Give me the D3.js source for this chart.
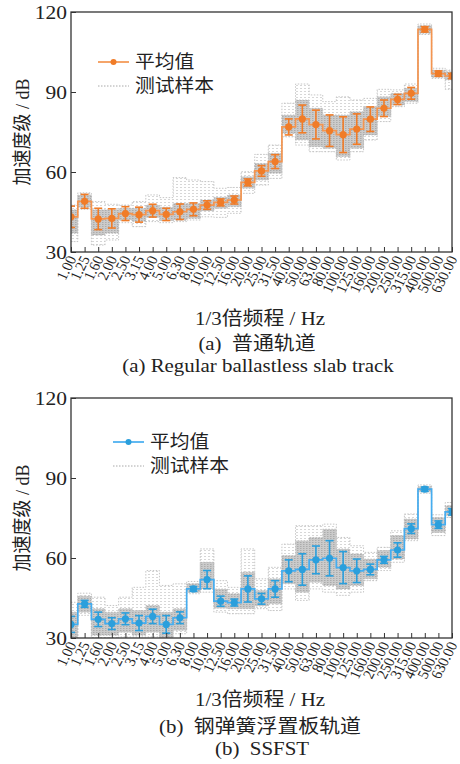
<!DOCTYPE html>
<html>
<head>
<meta charset="utf-8">
<script src="https://cdn.jsdelivr.net/npm/d3@7"></script>
<style>
  body { margin: 0; background: #fff; }
</style>
</head>
<body>
<div id="chart"></div>
<script>
const freqLabels = ["1.00", "1.25", "1.60", "2.00", "2.50", "3.15", "4.00", "5.00", "6.30", "8.00",
  "10.00", "12.50", "16.00", "20.00", "25.00", "31.50", "40.00", "50.00", "63.00", "80.00",
  "100.00", "125.00", "160.00", "200.00", "250.00", "315.00", "400.00", "500.00", "630.00"];
const yTicks = [30, 60, 90, 120];

// (a) regular slab track
const meanA = [43.2, 49.0, 42.4, 42.6, 44.4, 44.0, 45.5, 44.1, 45.1, 46.0, 47.6, 48.6, 49.5, 56.1, 60.4,
  63.9, 76.9, 79.9, 77.8, 75.5, 74.0, 76.1, 79.8, 83.9, 87.2, 89.5, 113.5, 96.9, 96.0];
const errA = [4.0, 2.6, 4.0, 3.6, 2.6, 2.8, 2.4, 2.3, 2.9, 2.4, 1.6, 1.3, 1.5, 1.3, 2.0,
  2.6, 3.0, 5.2, 5.4, 5.9, 6.7, 5.7, 4.6, 3.1, 1.9, 2.2, 1.0, 1.0, 1.0];
const outerHiA = [47.6, 52.2, 48.9, 47.9, 47.6, 48.9, 51.4, 50.4, 57.9, 57.0, 56.4, 53.9, 54.2, 60.1, 66.6,
  70.1, 85.8, 93.0, 88.9, 86.4, 88.2, 87.0, 87.6, 91.0, 90.8, 93.0, 115.5, 98.9, 98.2];
const outerLoA = [33.9, 46.0, 32.6, 34.5, 41.0, 39.5, 41.4, 41.0, 41.4, 42.0, 43.2, 43.0, 44.5, 52.0, 55.1,
  57.6, 73.2, 70.1, 67.6, 67.6, 64.5, 67.6, 72.0, 78.9, 84.5, 85.8, 111.6, 95.1, 91.0];
const denseHiA = [45.8, 51.4, 45.8, 45.8, 46.4, 46.4, 47.6, 46.8, 48.2, 48.2, 49.5, 50.5, 51.4, 58.2, 63.2,
  67.0, 81.4, 87.0, 83.9, 81.4, 81.4, 82.6, 84.5, 88.2, 89.5, 91.4, 114.8, 98.2, 97.6];
const denseLoA = [37.0, 46.8, 36.4, 37.0, 42.0, 41.4, 43.0, 41.8, 42.0, 42.6, 45.5, 46.4, 47.0, 53.9, 57.0,
  59.5, 74.5, 72.0, 69.5, 68.9, 65.8, 68.9, 73.9, 80.8, 85.1, 86.4, 112.0, 95.5, 94.5];

// (b) SSFST
const meanB = [35.1, 42.8, 37.0, 35.4, 37.2, 35.6, 38.1, 35.1, 37.6, 48.4, 51.9, 43.8, 43.3, 48.4, 44.7,
  48.4, 55.2, 55.7, 59.3, 59.9, 56.4, 55.2, 55.7, 59.3, 63.0, 71.0, 85.8, 72.5, 77.3];
const errB = [3.0, 1.3, 2.7, 2.2, 2.2, 2.8, 2.7, 3.3, 2.2, 0.9, 3.4, 1.9, 1.3, 4.9, 2.0,
  3.1, 4.1, 5.9, 5.2, 6.6, 6.0, 4.4, 2.0, 1.3, 2.7, 1.8, 0.8, 1.4, 1.2];
const outerHiB = [43.4, 46.8, 45.3, 42.2, 45.3, 49.0, 55.3, 49.7, 50.3, 51.2, 63.4, 51.5, 49.0, 63.4, 52.2,
  56.5, 65.2, 72.1, 72.1, 72.7, 67.7, 64.6, 62.1, 64.0, 70.2, 76.5, 87.4, 76.2, 80.8];
const outerLoB = [30.0, 38.5, 30.0, 30.0, 30.4, 30.4, 30.4, 30.0, 31.6, 46.6, 47.2, 39.7, 39.1, 39.1, 41.0,
  40.3, 48.4, 44.1, 48.4, 47.2, 46.0, 47.2, 51.5, 55.3, 58.4, 66.5, 84.3, 68.4, 75.2];
const denseHiB = [39.7, 45.7, 41.0, 39.7, 41.0, 40.3, 42.2, 39.7, 41.0, 50.3, 58.4, 48.4, 46.6, 54.7, 47.8,
  52.2, 60.9, 66.5, 67.7, 70.8, 63.4, 61.5, 59.6, 62.8, 68.4, 74.6, 86.8, 75.2, 79.6];
const denseLoB = [30.0, 39.7, 31.0, 31.0, 32.2, 31.0, 32.2, 30.0, 32.9, 47.2, 48.4, 41.2, 41.0, 41.0, 42.0,
  42.8, 50.3, 47.2, 50.9, 49.7, 48.4, 49.7, 52.2, 56.5, 59.6, 67.1, 84.8, 69.6, 75.8];

const WIDTH = 460, HEIGHT = 764;
const LEFT = 71, RIGHT = 452;
const LATIN = '"Liberation Serif", "Times New Roman", serif';
const CJK = '"Noto Sans CJK SC", sans-serif';
const SX = 1.1; // the source figure is slightly stretched sideways

const svg = d3.select('#chart')
  .append('svg')
  .attr('width', WIDTH)
  .attr('height', HEIGHT);

// writes mixed latin / chinese text, each run in its own font
function richText(sel, str) {
  const runs = str.match(/[\u3000-\u9fff]+|[^\u3000-\u9fff]+/g);
  runs.forEach(r => {
    sel.append('tspan')
      .style('font-family', /[\u3000-\u9fff]/.test(r) ? CJK : LATIN)
      .text(r);
  });
  return sel;
}

// textures for the sample bands
const defs = svg.append('defs');
const outerPat = defs.append('pattern')
  .attr('id', 'outerPat')
  .attr('patternUnits', 'userSpaceOnUse')
  .attr('width', 4).attr('height', 3);
outerPat.append('line')
  .attr('x1', 0).attr('y1', 1.5).attr('x2', 2).attr('y2', 1.5)
  .style('stroke', '#d2d2d2').style('stroke-width', 0.9);
const densePat = defs.append('pattern')
  .attr('id', 'densePat')
  .attr('patternUnits', 'userSpaceOnUse')
  .attr('width', 3).attr('height', 2);
densePat.append('rect').attr('width', 3).attr('height', 2).style('fill', '#cbcbcb');
densePat.append('rect').attr('width', 1.5).attr('height', 1).style('fill', '#acacac');

function drawPanel(p) {
  const g = svg.append('g');
  const x = d3.scalePoint().domain(freqLabels).range([LEFT, RIGHT]);
  const y = d3.scaleLinear().domain([30, 120]).range([p.bottom, p.top]);

  defs.append('clipPath').attr('id', p.id + 'clip')
    .append('rect')
    .attr('x', LEFT).attr('y', p.top)
    .attr('width', RIGHT - LEFT).attr('height', p.bottom - p.top);

  const plot = g.append('g').attr('clip-path', `url(#${p.id}clip)`);

  const band = (lo, hi) => d3.area()
    .x((d, i) => x(freqLabels[i]))
    .y0((d, i) => y(lo[i]))
    .y1((d, i) => y(hi[i]))
    .curve(d3.curveStep)(lo);
  const step = arr => d3.line()
    .x((d, i) => x(freqLabels[i]))
    .y(d => y(d))
    .curve(d3.curveStep)(arr);

  // test samples
  plot.append('path').attr('d', band(p.outerLo, p.outerHi)).style('fill', 'url(#outerPat)');
  plot.append('path').attr('d', band(p.denseLo, p.denseHi)).style('fill', 'url(#densePat)');
  [p.outerHi, p.outerLo, p.denseHi, p.denseLo].forEach(arr => {
    plot.append('path')
      .attr('d', step(arr))
      .style('fill', 'none')
      .style('stroke', '#b8b8b8')
      .style('stroke-width', 0.8)
      .style('stroke-dasharray', '1.5,1.5');
  });

  // mean
  plot.append('path')
    .attr('d', step(p.mean))
    .style('fill', 'none')
    .style('stroke', p.lineColor)
    .style('stroke-width', 1.7);

  p.mean.forEach((m, i) => {
    const cx = x(freqLabels[i]);
    const y0 = y(m - p.err[i]);
    const y1 = y(m + p.err[i]);
    plot.append('line')
      .attr('x1', cx).attr('x2', cx).attr('y1', y0).attr('y2', y1)
      .style('stroke', p.color).style('stroke-width', 1.6);
    [y0, y1].forEach(yy => {
      plot.append('line')
        .attr('x1', cx - 4).attr('x2', cx + 4).attr('y1', yy).attr('y2', yy)
        .style('stroke', p.color).style('stroke-width', 1.6);
    });
    plot.append('circle')
      .attr('cx', cx).attr('cy', y(m)).attr('r', 3.6)
      .style('fill', p.color);
  });

  // axes
  const yAxis = g.append('g')
    .attr('transform', `translate(${LEFT},0)`)
    .call(d3.axisLeft(y).tickValues(yTicks).tickSize(-5));
  yAxis.select('.domain').remove();
  yAxis.selectAll('line').style('stroke', '#333');
  yAxis.selectAll('text')
    .attr('x', 0).attr('dy', '0.34em')
    .attr('transform', `translate(-4,0) scale(${SX},1)`)
    .style('font-family', LATIN)
    .style('font-size', '19.5px')
    .style('fill', '#222');

  const xAxis = g.append('g')
    .attr('transform', `translate(0,${p.bottom})`)
    .call(d3.axisBottom(x).tickSize(-5));
  xAxis.select('.domain').remove();
  xAxis.selectAll('line').style('stroke', '#333');
  xAxis.selectAll('text')
    .attr('x', 0).attr('y', 0).attr('dy', '0.3em')
    .attr('text-anchor', 'end')
    .attr('transform', `translate(1,5) scale(${SX},1) rotate(-65)`)
    .style('font-family', LATIN)
    .style('font-size', '14px')
    .style('fill', '#222');

  g.append('rect')
    .attr('x', LEFT).attr('y', p.top)
    .attr('width', RIGHT - LEFT).attr('height', p.bottom - p.top)
    .style('fill', 'none')
    .style('stroke', '#333')
    .style('stroke-width', 1.3);

  richText(g.append('text')
    .attr('transform', `translate(22,${(p.top + p.bottom) / 2}) scale(${SX},1) rotate(-90)`)
    .attr('text-anchor', 'middle')
    .attr('dy', '0.36em')
    .style('font-size', '18px')
    .style('fill', '#222'), '加速度级 / dB');

  // legend
  const lg = g.append('g').attr('transform', `translate(${p.legX},${p.legY})`);
  lg.append('line').attr('x1', 0).attr('x2', 31).attr('y1', 0).attr('y2', 0)
    .style('stroke', p.lineColor).style('stroke-width', 1.7);
  lg.append('circle').attr('cx', 15.5).attr('cy', 0).attr('r', 3).style('fill', p.color);
  lg.append('text')
    .attr('transform', `translate(37,0) scale(${SX},1)`)
    .attr('dy', '0.36em')
    .style('font-family', CJK)
    .style('font-size', '18px').style('fill', '#222').text('平均值');
  lg.append('line').attr('x1', 0).attr('x2', 31).attr('y1', 24).attr('y2', 24)
    .style('stroke', '#a8a8a8').style('stroke-width', 1).style('stroke-dasharray', '1.5,1.5');
  lg.append('text')
    .attr('transform', `translate(37,24) scale(${SX},1)`)
    .attr('dy', '0.36em')
    .style('font-family', CJK)
    .style('font-size', '18px').style('fill', '#222').text('测试样本');

  // captions
  p.captions.forEach(c => {
    richText(g.append('text')
      .attr('transform', `translate(${c.x},${c.y}) scale(${SX},1)`)
      .attr('text-anchor', 'middle')
      .style('font-size', '19px')
      .style('fill', '#222')
      .style('white-space', 'pre'), c.text);
  });
}

drawPanel({
  id: 'a', top: 12, bottom: 252,
  color: '#f07c28', lineColor: '#f49550',
  mean: meanA, err: errA,
  outerLo: outerLoA, outerHi: outerHiA, denseLo: denseLoA, denseHi: denseHiA,
  legX: 98, legY: 62,
  captions: [
    { x: 260, y: 325, text: '1/3倍频程 / Hz' },
    { x: 257, y: 350, text: '(a)  普通轨道' },
    { x: 258, y: 372, text: '(a) Regular ballastless slab track' }
  ]
});

drawPanel({
  id: 'b', top: 398, bottom: 638,
  color: '#2b9fdc', lineColor: '#45adf0',
  mean: meanB, err: errB,
  outerLo: outerLoB, outerHi: outerHiB, denseLo: denseLoB, denseHi: denseHiB,
  legX: 113, legY: 442,
  captions: [
    { x: 260, y: 706, text: '1/3倍频程 / Hz' },
    { x: 260, y: 733, text: '(b)  钢弹簧浮置板轨道' },
    { x: 262, y: 755, text: '(b)  SSFST' }
  ]
});
</script>
</body>
</html>
